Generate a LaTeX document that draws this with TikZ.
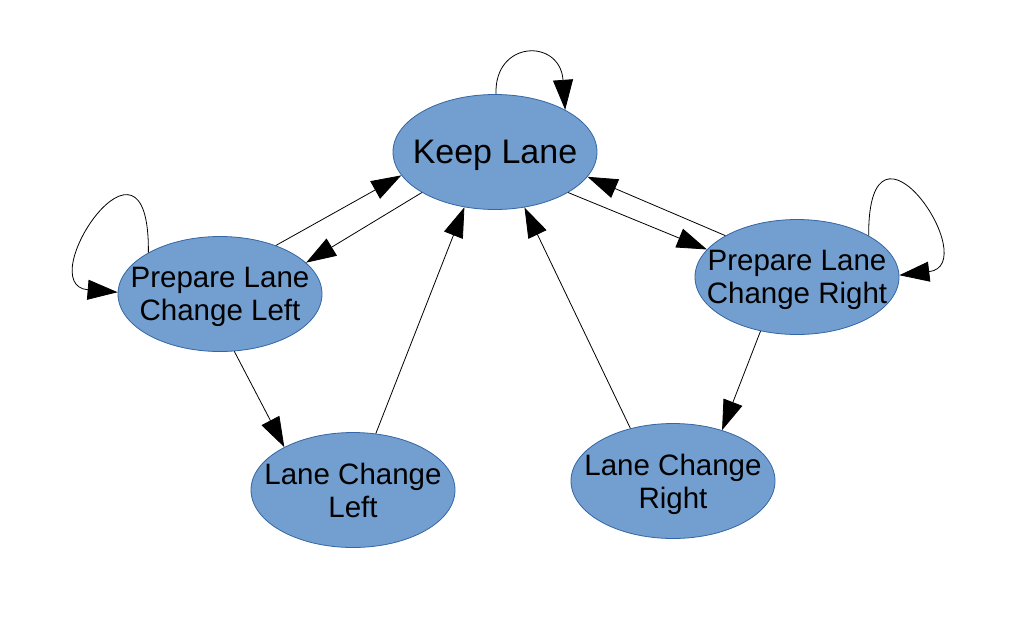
\documentclass[tikz,border=0pt]{standalone}
\usepackage{fontspec}
\setmainfont{Liberation Sans}
\usetikzlibrary{shapes.geometric,arrows.meta}
\definecolor{stfill}{HTML}{729FCF}
\definecolor{stdraw}{HTML}{3465A4}
\tikzset{
  state/.style={ellipse, fill=stfill, draw=stdraw, line width=0.8pt,
    minimum width=204pt, minimum height=115pt, inner xsep=-50pt, inner ysep=0pt,
    align=center, text=black, text depth=0pt, font=\fontsize{29.5}{33}\selectfont},
  bigstate/.style={state, font=\fontsize{34}{40}\selectfont},
  edge/.style={draw=black, line width=0.8pt, -{Triangle[length=30pt,width=20pt]}}
}
\begin{document}
\begin{tikzpicture}[x=1pt,y=-1pt]
\useasboundingbox (0,0) rectangle (1016,625);
\node[bigstate] (kl) at (495,152) {Keep Lane};
\node[state] (plcl) at (220,294) {Prepare Lane\\Change Left};
\node[state] (plcr) at (797,277) {Prepare Lane\\Change Right};
\node[state] (lcl) at (353,490) {Lane Change\\Left};
\node[state] (lcr) at (673,481) {Lane Change\\Right};

\draw[edge] (plcl.41) -- (kl.194);
\draw[edge] (kl.209) -- (plcl.20);
\draw[edge] (kl.331) -- (plcr.163);
\draw[edge] (plcr.150) -- (kl.345);
\draw[edge] (plcl.284) -- (lcl.148);
\draw[edge] (lcl.68) -- (kl.241);
\draw[edge] (lcr.129) -- (kl.298);
\draw[edge] (plcr.236) -- (lcr.46);

\draw[edge] (kl.89) .. controls (494,40) and (560,38) .. (kl.31);
\draw[edge] (plcl.150) .. controls (150,105) and (30,285) .. (plcl.179);
\draw[edge] (plcr.30) .. controls (868,92) and (985,265) .. (plcr.1);
\end{tikzpicture}
\end{document}
